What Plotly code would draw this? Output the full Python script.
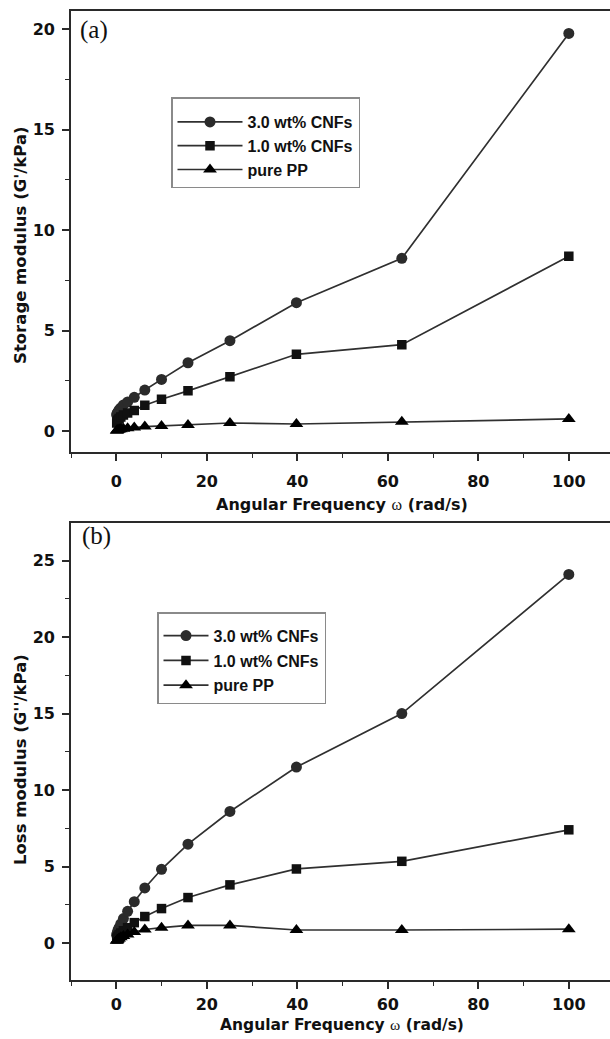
import plotly.graph_objects as go

# ---------------- data ----------------
omega = [0.1, 0.158, 0.251, 0.398, 0.631, 1.0, 1.585, 2.512, 3.981, 6.31,
         10.0, 15.85, 25.12, 39.81, 63.1, 100.0]

series_names = ["3.0 wt% CNFs", "1.0 wt% CNFs", "pure PP"]

# Storage modulus G' (kPa)
g1_cnf3 = [0.80, 0.85, 0.90, 0.95, 1.05, 1.15, 1.30, 1.45, 1.68, 2.04,
           2.57, 3.40, 4.50, 6.39, 8.60, 19.8]
g1_cnf1 = [0.40, 0.45, 0.50, 0.55, 0.62, 0.70, 0.80, 0.90, 1.02, 1.28,
           1.58, 2.00, 2.70, 3.82, 4.30, 8.70]
g1_pp = [0.02, 0.03, 0.04, 0.05, 0.07, 0.09, 0.11, 0.14, 0.17, 0.22,
         0.25, 0.30, 0.40, 0.35, 0.46, 0.60]

# Loss modulus G'' (kPa)
g2_cnf3 = [0.50, 0.60, 0.70, 0.85, 1.00, 1.25, 1.60, 2.07, 2.70, 3.60,
           4.82, 6.46, 8.60, 11.5, 15.0, 24.1]
g2_cnf1 = [0.27, 0.32, 0.38, 0.45, 0.55, 0.65, 0.80, 1.00, 1.33, 1.73,
           2.25, 2.97, 3.80, 4.84, 5.34, 7.40]
g2_pp = [0.15, 0.17, 0.20, 0.25, 0.30, 0.37, 0.45, 0.55, 0.72, 0.88,
         1.00, 1.15, 1.15, 0.85, 0.85, 0.90]

x_ticks = [0, 20, 40, 60, 80, 100]
y1_ticks = [0, 5, 10, 15, 20]
y2_ticks = [0, 5, 10, 15, 20, 25]
x_ticklabels = ["0", "20", "40", "60", "80", "100"]
y1_ticklabels = ["0", "5", "10", "15", "20"]
y2_ticklabels = ["0", "5", "10", "15", "20", "25"]

# ---------------- style ----------------
W, H = 610, 1039
SANS = "Liberation Sans"
WIDE = "DejaVu Sans"
SERIF = "Liberation Serif"
LINE_COL = "#303030"
AX_COL = "#2a2a2a"
TXT = "#111111"
symbols = ["circle", "square", "triangle-up"]
msizes = [11, 9.5, 12]
mcolors = ["#2b2b2b", "#111111", "#000000"]


def px_x(p):
    return p / W


def px_y(p):
    return 1 - p / H


def bold(labels):
    return ["<b>%s</b>" % t for t in labels]


fig = go.Figure()

panel_a = [g1_cnf3, g1_cnf1, g1_pp]
panel_b = [g2_cnf3, g2_cnf1, g2_pp]

for i, ys in enumerate(panel_a):
    fig.add_trace(go.Scatter(
        x=omega, y=ys, name=series_names[i], mode="lines+markers",
        line=dict(color=LINE_COL, width=1.7),
        marker=dict(symbol=symbols[i], size=msizes[i], color=mcolors[i]),
        xaxis="x", yaxis="y", legend="legend", legendgroup="a%d" % i,
    ))

for i, ys in enumerate(panel_b):
    fig.add_trace(go.Scatter(
        x=omega, y=ys, name=series_names[i], mode="lines+markers",
        line=dict(color=LINE_COL, width=1.7),
        marker=dict(symbol=symbols[i], size=msizes[i], color=mcolors[i]),
        xaxis="x2", yaxis="y2", legend="legend2", legendgroup="b%d" % i,
    ))

tickfont = dict(family=WIDE, size=16, color=TXT, weight=700)
minor_x = dict(dtick=10, tick0=0, ticks="outside", ticklen=4,
               tickwidth=1.3, tickcolor=AX_COL, showgrid=False)
minor_y = dict(dtick=2.5, tick0=0, ticks="outside", ticklen=4,
               tickwidth=1.3, tickcolor=AX_COL, showgrid=False)

xcommon = dict(
    range=[-10.0, 109.1], tickvals=x_ticks, ticktext=bold(x_ticklabels),
    ticks="outside", ticklen=7,
    tickwidth=1.6, tickcolor=AX_COL, showline=True, linecolor=AX_COL,
    linewidth=1.8, mirror=True, showgrid=False, zeroline=False,
    tickfont=tickfont, automargin=False, minor=minor_x,
    domain=[px_x(71), 1.0],
)
ycommon = dict(
    ticks="outside", ticklen=7, tickwidth=1.6, tickcolor=AX_COL,
    showline=True, linecolor=AX_COL, linewidth=1.8, mirror=False,
    showgrid=False, zeroline=False, tickfont=tickfont,
    ticklabelstandoff=4, automargin=False, minor=minor_y,
)

legend_common = dict(
    xanchor="left", yanchor="top",
    bordercolor="#8a8a8a", borderwidth=1.5, bgcolor="white",
    font=dict(family=SANS, size=16, color=TXT, weight=700),
)

fig.update_layout(
    width=W, height=H,
    margin=dict(l=0, r=0, t=0, b=0, pad=0),
    paper_bgcolor="white", plot_bgcolor="white",
    showlegend=True,
    xaxis=dict(xcommon, anchor="y", ticklabelstandoff=7),
    yaxis=dict(ycommon, range=[-1.03, 20.93], tickvals=y1_ticks,
               ticktext=bold(y1_ticklabels),
               domain=[px_y(451.7), px_y(10.7)], anchor="x"),
    xaxis2=dict(xcommon, anchor="y2", ticklabelstandoff=2),
    yaxis2=dict(ycommon, range=[-2.42, 27.48], tickvals=y2_ticks,
                ticktext=bold(y2_ticklabels),
                domain=[px_y(980), px_y(522.7)], anchor="x2"),
    legend=dict(legend_common, x=px_x(171), y=px_y(97),
                itemwidth=65, tracegroupgap=0,
                title=dict(text=" ", font=dict(size=5))),
    legend2=dict(legend_common, x=px_x(157), y=px_y(612),
                 itemwidth=45, tracegroupgap=1,
                 title=dict(text=" ", font=dict(size=4))),
)

omega_html = "<span style='font-family:Liberation Serif;font-weight:normal'>ω</span>"
xtitle = "<b>Angular Frequency </b>" + omega_html + "<b> (rad/s)</b>"

annotations = [
    dict(text=xtitle, x=px_x(342), y=px_y(504), xref="paper", yref="paper",
         showarrow=False, font=dict(family=WIDE, size=16, color=TXT),
         xanchor="center", yanchor="middle"),
    dict(text=xtitle, x=px_x(342), y=px_y(1025), xref="paper", yref="paper",
         showarrow=False, font=dict(family=WIDE, size=15.5, color=TXT),
         xanchor="center", yanchor="middle"),
    dict(text="<b>Storage modulus (G'/kPa)</b>", x=px_x(20), y=px_y(245),
         xref="paper", yref="paper", showarrow=False, textangle=-90,
         font=dict(family=WIDE, size=16.5, color=TXT),
         xanchor="center", yanchor="middle"),
    dict(text="<b>Loss modulus (G''/kPa)</b>", x=px_x(20), y=px_y(760),
         xref="paper", yref="paper", showarrow=False, textangle=-90,
         font=dict(family=WIDE, size=16.5, color=TXT),
         xanchor="center", yanchor="middle"),
    dict(text="(a)", x=px_x(94), y=px_y(30), xref="paper", yref="paper",
         showarrow=False, font=dict(family=SERIF, size=25, color=TXT),
         xanchor="center", yanchor="middle"),
    dict(text="(b)", x=px_x(96), y=px_y(536), xref="paper", yref="paper",
         showarrow=False, font=dict(family=SERIF, size=25, color=TXT),
         xanchor="center", yanchor="middle"),
]
fig.update_layout(annotations=annotations)

# remove the browser's default 8px body margin so the figure fills the window
fig.write_html(
    "out.html",
    config={"displayModeBar": False},
    post_script="document.body.style.margin='0';document.body.style.padding='0';",
)
